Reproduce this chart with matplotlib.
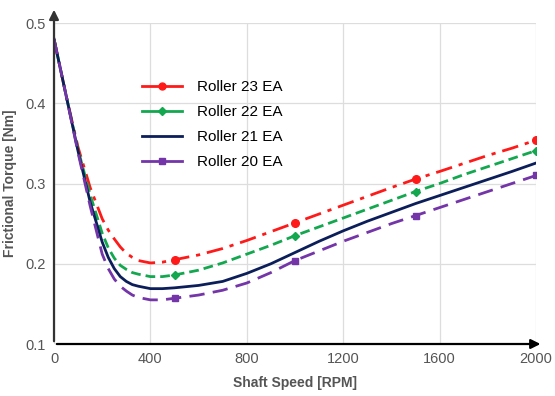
import numpy as np
import matplotlib.pyplot as plt
from matplotlib.lines import Line2D

speed = [0, 50, 100, 150, 200, 225, 250, 275, 300, 325, 350, 400, 450, 500, 600, 700,
         800, 900, 1000, 1100, 1200, 1300, 1400, 1500, 1600, 1700, 1800, 1900, 2000]
roller23 = [0.48, 0.41, 0.345, 0.295, 0.256, 0.242, 0.231, 0.221, 0.213, 0.208, 0.204,
            0.201, 0.202, 0.205, 0.211, 0.219, 0.229, 0.240, 0.251, 0.262, 0.273,
            0.284, 0.295, 0.3055, 0.315, 0.325, 0.335, 0.344, 0.354]
roller22 = [0.48, 0.41, 0.342, 0.286, 0.238, 0.220, 0.207, 0.198, 0.193, 0.189, 0.187,
            0.184, 0.184, 0.186, 0.192, 0.201, 0.212, 0.223, 0.235, 0.246, 0.257,
            0.268, 0.279, 0.290, 0.300, 0.311, 0.321, 0.331, 0.341]
roller21 = [0.48, 0.41, 0.340, 0.277, 0.227, 0.208, 0.194, 0.184, 0.178, 0.174, 0.172,
            0.169, 0.169, 0.170, 0.173, 0.178, 0.188, 0.200, 0.214, 0.228, 0.241,
            0.253, 0.264, 0.275, 0.285, 0.295, 0.305, 0.315, 0.3255]
roller20 = [0.48, 0.41, 0.338, 0.272, 0.212, 0.194, 0.181, 0.172, 0.166, 0.161, 0.158,
            0.155, 0.155, 0.157, 0.161, 0.167, 0.176, 0.189, 0.204, 0.216, 0.228,
            0.239, 0.250, 0.260, 0.270, 0.280, 0.290, 0.300, 0.310]
marker_speeds = [500, 1000, 1500, 2000]
labels = ['Roller 23 EA', 'Roller 22 EA', 'Roller 21 EA', 'Roller 20 EA']

fam = ['Liberation Sans', 'DejaVu Sans']
gray = '#555555'
plt.rcParams['font.family'] = fam

fig = plt.figure(figsize=(5.55, 3.96), dpi=100)
ax = fig.add_axes([0.0973, 0.1313, 0.8685, 0.8106])

idx = [speed.index(s) for s in marker_speeds]
c23, c22, c21, c20 = '#ff1a1a', '#13a84f', '#0c1e5a', '#7335a8'
ax.plot(speed, roller23, color=c23, lw=2, dashes=[6, 2.5, 1.5, 2.5],
        marker='o', ms=5.5, markevery=idx)
ax.plot(speed, roller22, color=c22, lw=2, dashes=[3.5, 1.8],
        marker='D', ms=4.5, markevery=idx)
ax.plot(speed, roller21, color=c21, lw=2)
ax.plot(speed, roller20, color=c20, lw=2, dashes=[5.5, 3],
        marker='s', ms=4.5, markevery=idx)

ax.set_xlim(0, 2000)
ax.set_ylim(0.1, 0.5)
ax.set_xticks([0, 400, 800, 1200, 1600, 2000])
ax.set_yticks([0.1, 0.2, 0.3, 0.4, 0.5])
ax.set_yticklabels(['0.1', '0.2', '0.3', '0.4', '0.5'])
ax.grid(True, color='#dddddd', lw=0.9)
ax.set_axisbelow(True)
ax.tick_params(length=0, labelcolor=gray, labelsize=10.5, pad=6)
for s in ['top', 'right', 'left', 'bottom']:
    ax.spines[s].set_visible(False)

# axes drawn as arrows
ax.annotate('', xy=(1.015, 0), xycoords='axes fraction', xytext=(0, 0),
            arrowprops=dict(arrowstyle='-|>', color='black', lw=1.6, mutation_scale=14))
ax.annotate('', xy=(0, 1.05), xycoords='axes fraction', xytext=(0, 0),
            arrowprops=dict(arrowstyle='-|>', color='#333333', lw=1.6, mutation_scale=14))

ax.set_xlabel('Shaft Speed [RPM]', color=gray, fontsize=10, fontweight='bold')
ax.xaxis.set_label_coords(0.5, -0.1)
ax.set_ylabel('Frictional Torque [Nm]', color=gray, fontsize=10, fontweight='bold')
ax.yaxis.set_label_coords(-0.077, 0.5)

handles = [Line2D([], [], color=c23, lw=2, marker='o', ms=5),
           Line2D([], [], color=c22, lw=2, marker='D', ms=4),
           Line2D([], [], color=c21, lw=2),
           Line2D([], [], color=c20, lw=2, marker='s', ms=4)]
ax.legend(handles, labels, loc='upper left', bbox_to_anchor=(0.155, 0.865), frameon=False,
          prop={'size': 11}, handlelength=2.6, labelspacing=0.72,
          handletextpad=1.0)

fig.savefig('out.png', dpi=100)
